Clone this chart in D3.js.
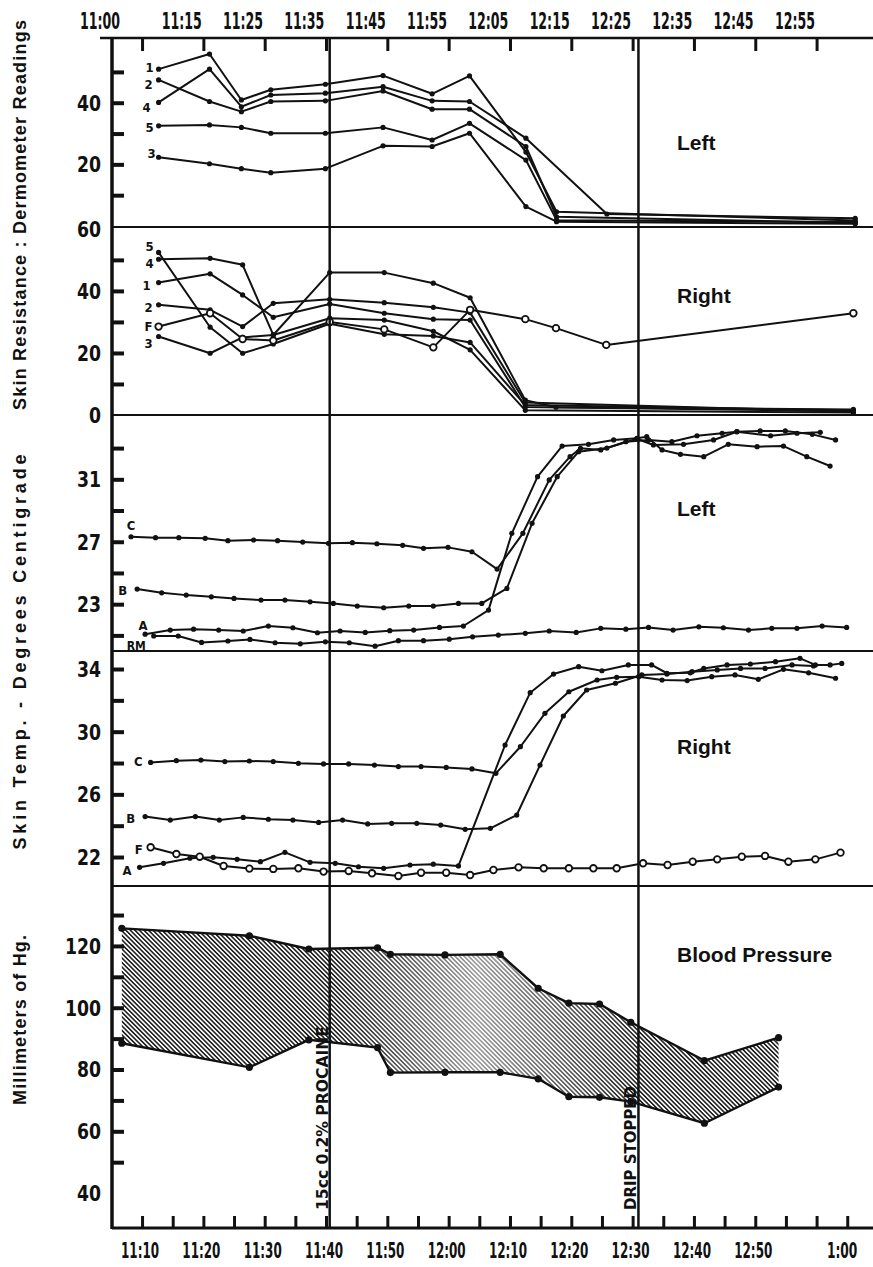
<!DOCTYPE html>
<html>
<head>
<meta charset="utf-8">
<script src="https://cdn.jsdelivr.net/npm/d3@7"></script>
<style>
  body { margin: 0; background: #fff; }
  svg text { font-family: "Liberation Sans Narrow", "DejaVu Sans Condensed", "Arial Narrow", sans-serif; font-weight: bold; fill: #111; }
  svg text.plain { font-family: "Liberation Sans", Arial, sans-serif; }
</style>
</head>
<body>
<svg id="chart" width="873" height="1267"></svg>
<script>
// time is in minutes after 11:00
var topLabels = ["11:00","11:15","11:25","11:35","11:45","11:55","12:05","12:15","12:25","12:35","12:45","12:55"];
var topLabelTimes = [0, 15, 25, 35, 45, 55, 65, 75, 85, 95, 105, 115];
var bottomLabels = ["11:10","11:20","11:30","11:40","11:50","12:00","12:10","12:20","12:30","12:40","12:50","1:00"];
var bottomLabelTimes = [10, 20, 30, 40, 50, 60, 70, 80, 90, 100, 110, 124.5];

// skin resistance, left
var derTimesL = [12.7, 21.0, 26.2, 31.0, 39.9, 49.3, 57.3, 63.4, 72.6, 77.6, 85.8, 126.3];
var derL1 = [50.9, 55.8, 40.9, 44.2, 46.0, 48.8, 42.9, 48.7, 24.0, 4.6, null, 1.8];
var derL2 = [47.4, 40.4, 37.1, 40.4, 40.6, 43.8, 37.9, 37.9, 25.8, 3.0, null, 1.0];
var derL4 = [40.1, 50.9, 38.7, 42.5, 43.1, 45.2, 40.6, 40.4, 28.5, null, 3.9, 2.5];
var derL5 = [32.5, 32.8, 32.0, 30.1, 30.1, 32.0, 27.9, 33.3, 21.4, 1.9, null, 1.3];
var derL3 = [22.3, 20.2, 18.6, 17.3, 18.6, 26.0, 25.8, 30.1, 6.3, 1.4, null, 0.7];

// skin resistance, right
var derTimesR = [12.7, 21.1, 26.4, 31.4, 40.6, 49.5, 57.5, 63.5, 72.5, 77.5, 85.7, 126];
var derR5 = [52.4, 28.3, 19.9, 22.9, 29.4, 26.0, 25.5, 23.4, 3.2, null, null, 1.5];
var derR4 = [50.2, 50.5, 48.4, 25.8, 45.9, 45.9, 42.5, 37.8, 4.8, 2.5, null, 1.8];
var derR1 = [42.7, 45.5, 38.7, 31.5, 35.8, 32.8, 30.9, 30.6, 2.6, null, null, 1.2];
var derR2 = [35.5, 33.9, 28.5, 36.0, 37.3, 36.2, 34.7, 33.0, 4.0, null, null, 1.0];
var derRF = [28.5, 32.8, 24.5, 24.0, 30.0, 27.6, 21.8, 33.9, 30.9, 28.0, 22.6, 32.8];
var derR3 = [25.3, 19.9, 25.0, 25.8, 31.2, 30.6, 27.0, 21.0, 1.5, null, null, 0.8];

// skin temperature, left
var tempLC_t = [8.2, 12.2, 16.0, 20.3, 24.0, 28.2, 32.1, 36.2, 40.4, 44.3, 48.3, 52.5, 55.9, 59.9, 63.8, 67.9, 72.1, 76.4, 79.8, 81.5, 84.8, 88.9, 92.6, 96.4, 100.5, 104.6, 107.0, 110.8, 114.9, 119.3, 123.1];
var tempLC_v = [27.32, 27.26, 27.26, 27.22, 27.07, 27.11, 27.07, 26.98, 26.90, 26.94, 26.87, 26.77, 26.58, 26.64, 26.36, 25.25, 27.54, 30.96, 32.45, 32.99, 32.88, 33.41, 33.52, 33.41, 33.79, 33.95, 34.05, 34.10, 34.10, 33.88, 33.52];
var tempLB_t = [9.2, 13.2, 17.2, 21.3, 25.0, 29.4, 33.3, 37.4, 41.2, 45.1, 49.4, 53.5, 57.5, 61.6, 65.4, 69.5, 73.6, 77.7, 81.2, 85.8, 90.7, 93.4, 98.3, 103.2, 107.0, 112.5, 116.8, 120.6];
var tempLB_v = [23.97, 23.73, 23.58, 23.47, 23.37, 23.26, 23.26, 23.15, 23.05, 22.88, 22.77, 22.88, 22.88, 23.05, 23.05, 24.01, 28.18, 31.17, 32.77, 33.0, 33.6, 33.20, 33.24, 33.52, 34.05, 33.79, 33.95, 34.01];
var tempLA_t = [10.5, 14.6, 18.4, 22.5, 26.5, 30.6, 34.6, 38.6, 42.3, 46.4, 50.4, 54.3, 58.5, 62.4, 66.5, 70.3, 74.5, 78.5, 82.8, 86.9, 90.7, 92.3, 94.8, 97.8, 101.6, 105.6, 110.3, 114.6, 118.4, 122.2];
var tempLA_v = [21.08, 21.34, 21.40, 21.34, 21.28, 21.60, 21.49, 21.17, 21.28, 21.19, 21.30, 21.34, 21.51, 21.60, 22.62, 27.54, 31.17, 33.13, 33.24, 33.52, 33.63, 33.73, 32.88, 32.60, 32.45, 33.24, 33.09, 33.13, 32.45, 31.85];
var tempLRM_t = [11.9, 15.9, 19.7, 24.0, 27.6, 31.7, 35.8, 39.9, 43.8, 48.0, 51.8, 55.9, 60.1, 63.9, 68.1, 72.5, 76.4, 80.8, 84.8, 88.9, 92.6, 96.6, 100.8, 104.8, 108.9, 112.7, 116.8, 120.9, 124.9];
var tempLRM_v = [20.96, 20.96, 20.55, 20.64, 20.74, 20.53, 20.46, 20.59, 20.53, 20.31, 20.66, 20.66, 20.76, 20.91, 21.02, 21.13, 21.28, 21.19, 21.45, 21.40, 21.51, 21.34, 21.55, 21.49, 21.34, 21.45, 21.45, 21.60, 21.51];

// skin temperature, right
var tempRC_t = [11.4, 15.6, 19.6, 23.5, 27.5, 31.4, 35.5, 39.6, 43.7, 47.9, 51.8, 55.5, 59.6, 63.8, 67.7, 71.7, 75.7, 79.6, 84.2, 87.4, 91.0, 94.8, 98.9, 102.9, 106.7, 110.5, 114.6, 118.7, 123.1];
var tempRC_v = [28.04, 28.15, 28.19, 28.09, 28.13, 28.09, 27.98, 27.94, 27.94, 27.87, 27.77, 27.77, 27.72, 27.62, 27.34, 29.04, 31.17, 32.55, 33.30, 33.47, 33.51, 33.30, 33.26, 33.51, 33.62, 33.34, 33.98, 33.76, 33.41];
var tempRB_t = [10.5, 14.6, 18.7, 22.6, 26.5, 30.6, 34.6, 38.8, 42.7, 46.8, 50.7, 54.8, 58.7, 62.7, 66.8, 71.1, 74.9, 78.7, 82.5, 87.2, 91.5, 95.6, 99.7, 103.8, 107.6, 111.6, 116.0, 119.5];
var tempRB_v = [24.58, 24.36, 24.58, 24.36, 24.53, 24.41, 24.36, 24.21, 24.36, 24.11, 24.15, 24.15, 24.04, 23.77, 23.83, 24.68, 27.87, 31.0, 32.66, 33.09, 33.62, 33.68, 33.83, 33.94, 34.04, 34.04, 34.26, 34.2];
var tempRA_t = [9.6, 13.5, 17.8, 21.6, 25.5, 29.3, 33.3, 37.4, 41.5, 45.3, 49.4, 53.7, 57.5, 61.6, 69.2, 73.3, 77.1, 81.2, 85.0, 89.3, 93.1, 95.6, 99.4, 101.6, 105.4, 109.2, 113.3, 117.3, 119.8, 122.2, 124.1];
var tempRA_v = [21.34, 21.60, 21.92, 21.98, 21.85, 21.70, 22.30, 21.66, 21.60, 21.38, 21.28, 21.49, 21.54, 21.43, 29.15, 32.49, 33.68, 34.15, 33.89, 34.26, 34.26, 33.73, 33.76, 34.04, 34.26, 34.32, 34.47, 34.68, 34.26, 34.26, 34.36];
var tempRF_t = [11.4, 15.6, 19.4, 23.3, 27.5, 31.4, 35.5, 39.6, 43.7, 47.5, 51.8, 55.5, 59.6, 63.5, 67.3, 71.4, 75.5, 79.6, 83.6, 87.4, 91.7, 95.7, 99.8, 103.8, 107.8, 111.6, 115.4, 119.8, 123.9];
var tempRF_v = [22.62, 22.19, 22.02, 21.43, 21.26, 21.24, 21.28, 21.07, 21.11, 20.96, 20.79, 21.00, 21.00, 20.85, 21.17, 21.34, 21.28, 21.28, 21.28, 21.28, 21.60, 21.49, 21.70, 21.85, 22.02, 22.07, 21.70, 21.85, 22.28];

// blood pressure
var bpTimes = [6.7, 27.5, 37.2, 48.4, 50.5, 59.4, 68.4, 74.6, 79.6, 84.6, 89.7, 101.7, 113.8];
var bpSystolic = [125.7, 123.3, 119.0, 119.4, 117.3, 117.1, 117.3, 106.3, 101.5, 101.2, 95.3, 82.9, 90.3];
var bpDiastolic = [88.5, 80.7, 89.6, 87.1, 79.0, 79.1, 79.1, 77.0, 71.2, 71.0, 69.6, 62.6, 74.3];

var eventTimes = [40.6, 90.95];
var eventLabels = ["15cc 0.2% PROCAINE", "DRIP STOPPED"];

var svg = d3.select("#chart");
var TOP = 38, BOTTOM = 1228, LEFT = 112, RIGHT = 873;

var x = d3.scaleLinear().domain([5.1, 129.2]).range([LEFT, RIGHT]);

var panels = [
  { y: d3.scaleLinear().domain([0, 61]).range([226, 38]), ticks: [10,20,30,40,50], labels: [20,40], title: "Left", titleY: 150 },
  { y: d3.scaleLinear().domain([0, 60.6]).range([415, 227]), ticks: [10,20,30,40,50], labels: [0,20,40,60], title: "Right", titleY: 303 },
  { y: d3.scaleLinear().domain([20, 35.12]).range([651, 415]), ticks: [21,23,25,27,29,31,33], labels: [23,27,31], title: "Left", titleY: 516 },
  { y: d3.scaleLinear().domain([20.15, 35.15]).range([886, 651]), ticks: [22,24,26,28,30,32,34], labels: [22,26,30,34], title: "Right", titleY: 754 },
  { y: d3.scaleLinear().domain([28.7, 139.4]).range([1228, 886]), ticks: [50,60,70,80,90,100,110,120,130], labels: [40,60,80,100,120], title: "Blood Pressure", titleY: 962 }
];

// hatch for the blood pressure band
var defs = svg.append("defs");
var pat = defs.append("pattern").attr("id", "hatch")
    .attr("patternUnits", "userSpaceOnUse")
    .attr("width", 3.2).attr("height", 3.2)
    .attr("patternTransform", "rotate(-45)");
pat.append("rect").attr("width", 3.2).attr("height", 3.2).attr("fill", "#fff");
pat.append("line").attr("x1", 0.8).attr("y1", 0).attr("x2", 0.8).attr("y2", 3.2)
    .attr("stroke", "#222").attr("stroke-width", 1.6);
var grad = defs.append("linearGradient").attr("id", "fade")
    .attr("gradientUnits", "userSpaceOnUse")
    .attr("x1", x(42)).attr("x2", x(92)).attr("y1", 0).attr("y2", 0);
grad.append("stop").attr("offset", "0%").attr("stop-color", "#fff").attr("stop-opacity", 0);
grad.append("stop").attr("offset", "45%").attr("stop-color", "#fff").attr("stop-opacity", 0.55);
grad.append("stop").attr("offset", "100%").attr("stop-color", "#fff").attr("stop-opacity", 0);

// blood pressure band
var bp = bpTimes.map(function(t, i) { return { t: t, sys: bpSystolic[i], dia: bpDiastolic[i] }; });
var yBP = panels[4].y;
var area = d3.area().x(d => x(d.t)).y0(d => yBP(d.dia)).y1(d => yBP(d.sys));
svg.append("path").attr("d", area(bp)).attr("fill", "url(#hatch)");
svg.append("path").attr("d", area(bp)).attr("fill", "url(#fade)");
[ "sys", "dia" ].forEach(function(k) {
  svg.append("path")
    .attr("d", d3.line().x(d => x(d.t)).y(d => yBP(d[k]))(bp))
    .attr("fill", "none").attr("stroke", "#111").attr("stroke-width", 2.4);
  svg.selectAll(null).data(bp).enter().append("circle")
    .attr("cx", d => x(d.t)).attr("cy", d => yBP(d[k])).attr("r", 3.6).attr("fill", "#111");
});

function drawSeries(y, t, v, name, open, off) {
  var pts = t.map(function(m, i) { return [m, v[i]]; }).filter(d => d[1] != null);
  var g = svg.append("g");
  g.append("path")
    .attr("d", d3.line().x(d => x(d[0])).y(d => y(d[1]))(pts))
    .attr("fill", "none").attr("stroke", "#111").attr("stroke-width", 2)
    .attr("stroke-linejoin", "round");
  g.selectAll("circle").data(pts).enter().append("circle")
    .attr("cx", d => x(d[0])).attr("cy", d => y(d[1]))
    .attr("r", open ? 3.3 : 2.6)
    .attr("fill", open ? "#fff" : "#111")
    .attr("stroke", "#111").attr("stroke-width", open ? 1.8 : 0);
  g.append("text")
    .attr("x", x(pts[0][0]) + off[0]).attr("y", y(pts[0][1]) + off[1])
    .attr("text-anchor", off[2] || "end")
    .attr("font-size", name.length > 1 ? 12 : 13)
    .text(name);
}

var yA = panels[0].y, yB = panels[1].y, yC = panels[2].y, yD = panels[3].y;
drawSeries(yA, derTimesL, derL1, "1", false, [-5, 3]);
drawSeries(yA, derTimesL, derL2, "2", false, [-6, 9]);
drawSeries(yA, derTimesL, derL4, "4", false, [-8, 10]);
drawSeries(yA, derTimesL, derL5, "5", false, [-5, 6]);
drawSeries(yA, derTimesL, derL3, "3", false, [-3, 1]);

drawSeries(yB, derTimesR, derR5, "5", false, [-5, -1]);
drawSeries(yB, derTimesR, derR4, "4", false, [-5, 9]);
drawSeries(yB, derTimesR, derR1, "1", false, [-8, 7]);
drawSeries(yB, derTimesR, derR2, "2", false, [-6, 7]);
drawSeries(yB, derTimesR, derR3, "3", false, [-6, 11]);
drawSeries(yB, derTimesR, derRF, "F", true, [-6, 4]);

drawSeries(yC, tempLC_t, tempLC_v, "C", false, [0, -7, "middle"]);
drawSeries(yC, tempLB_t, tempLB_v, "B", false, [-10, 6]);
drawSeries(yC, tempLA_t, tempLA_v, "A", false, [-2, -4, "middle"]);
drawSeries(yC, tempLRM_t, tempLRM_v, "RM", false, [-8, 14]);

drawSeries(yD, tempRC_t, tempRC_v, "C", false, [-8, 4]);
drawSeries(yD, tempRB_t, tempRB_v, "B", false, [-10, 6]);
drawSeries(yD, tempRA_t, tempRA_v, "A", false, [-8, 8]);
drawSeries(yD, tempRF_t, tempRF_v, "F", true, [-8, 7]);

// panel frames, ticks, value labels, titles
panels.forEach(function(p, i) {
  var top = p.y.range()[1];
  if (i > 0) {
    svg.append("line").attr("x1", LEFT).attr("x2", RIGHT).attr("y1", top).attr("y2", top)
      .attr("stroke", "#111").attr("stroke-width", 2);
  }
  var ax = svg.append("g").attr("transform", "translate(" + LEFT + ",0)")
    .call(d3.axisLeft(p.y).tickValues(p.ticks).tickSize(-12).tickFormat(""));
  ax.select(".domain").remove();
  ax.selectAll(".tick line").attr("stroke", "#111").attr("stroke-width", 4);
  svg.selectAll(null).data(p.labels).enter().append("text")
    .attr("x", 101).attr("y", d => p.y(d)).attr("dy", "0.36em")
    .attr("text-anchor", "end").attr("font-size", 22)
    .attr("textLength", d => String(d).length * 12).attr("lengthAdjust", "spacingAndGlyphs")
    .text(d => d);
  svg.append("text").attr("class", "plain")
    .attr("x", 677).attr("y", p.titleY).attr("font-size", 21)
    .text(p.title);
});

// outer frame
svg.append("line").attr("x1", LEFT).attr("x2", LEFT).attr("y1", TOP - 1).attr("y2", BOTTOM + 1)
  .attr("stroke", "#111").attr("stroke-width", 3.5);
svg.append("line").attr("x1", 100).attr("x2", RIGHT).attr("y1", TOP).attr("y2", TOP)
  .attr("stroke", "#111").attr("stroke-width", 2.5);
svg.append("line").attr("x1", LEFT).attr("x2", RIGHT).attr("y1", BOTTOM).attr("y2", BOTTOM)
  .attr("stroke", "#111").attr("stroke-width", 3);

// time axes
var topAx = svg.append("g").attr("transform", "translate(0," + TOP + ")")
  .call(d3.axisTop(x).tickValues(d3.range(10, 121, 10)).tickSize(-13).tickFormat(""));
topAx.select(".domain").remove();
topAx.selectAll(".tick line").attr("stroke", "#111").attr("stroke-width", 3);

var botAx = svg.append("g").attr("transform", "translate(0," + BOTTOM + ")")
  .call(d3.axisBottom(x).tickValues(d3.range(10, 126, 5)).tickSize(-12).tickFormat(""));
botAx.select(".domain").remove();
botAx.selectAll(".tick line").attr("stroke", "#111").attr("stroke-width", 3);

svg.selectAll(null).data(topLabels).enter().append("text")
  .attr("x", (d, i) => Math.max(x(topLabelTimes[i]) + 9, 100))
  .attr("y", 29).attr("text-anchor", "middle").attr("font-size", 23)
  .attr("textLength", 40).attr("lengthAdjust", "spacingAndGlyphs")
  .text(d => d);
svg.selectAll(null).data(bottomLabels).enter().append("text")
  .attr("x", (d, i) => x(bottomLabelTimes[i]) - 2)
  .attr("y", 1258).attr("text-anchor", "middle").attr("font-size", 21)
  .attr("textLength", d => d.length * 7.6).attr("lengthAdjust", "spacingAndGlyphs")
  .text(d => d);

// event lines
eventTimes.forEach(function(t, i) {
  svg.append("line").attr("x1", x(t)).attr("x2", x(t)).attr("y1", TOP).attr("y2", BOTTOM)
    .attr("stroke", "#111").attr("stroke-width", 2.5);
  svg.append("text")
    .attr("transform", "translate(" + (x(t) - 2) + "," + 1210 + ") rotate(-90)")
    .attr("font-size", 15)
    .attr("textLength", i === 0 ? 184 : 124).attr("lengthAdjust", "spacingAndGlyphs")
    .text(eventLabels[i]);
});

// axis titles
var titles = [
  { text: "Skin Resistance : Dermometer Readings", y: 215, len: 390 },
  { text: "Skin Temp. - Degrees Centigrade", y: 652, len: 395 },
  { text: "Millimeters of Hg.", y: 1020, len: 170 }
];
titles.forEach(function(d) {
  svg.append("text").attr("class", "plain")
    .attr("transform", "translate(26," + d.y + ") rotate(-90)")
    .attr("text-anchor", "middle").attr("font-size", 18)
    .attr("textLength", d.len).attr("lengthAdjust", "spacing")
    .text(d.text);
});
</script>
</body>
</html>
